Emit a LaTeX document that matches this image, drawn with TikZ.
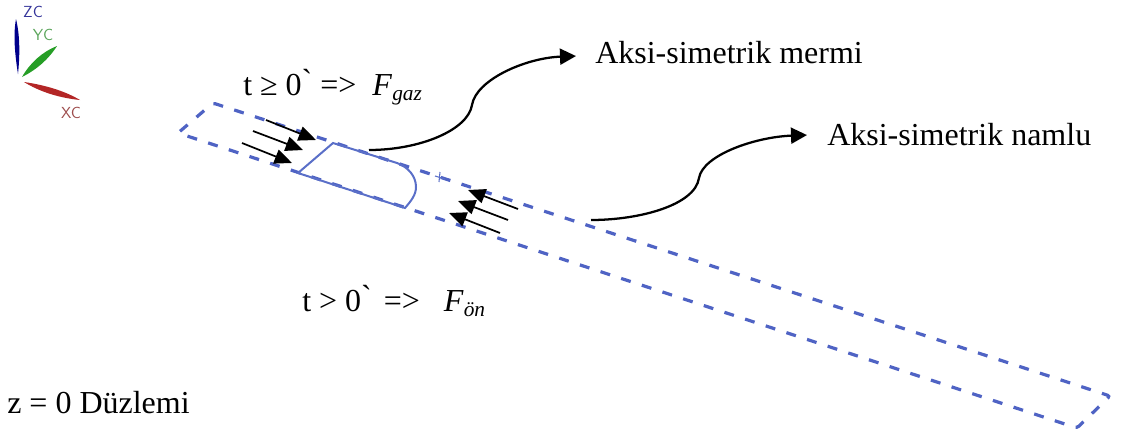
\documentclass[tikz,border=0pt]{standalone}
\usepackage{fontspec}
\setmainfont{Liberation Serif}
\usepackage{tikz}
\usetikzlibrary{arrows.meta}
\definecolor{barrelblue}{HTML}{4F63C4}
\definecolor{bulletblue}{HTML}{5A6FC8}
\tikzset{
  barrel/.style={line width=2.4pt, draw=barrelblue, dash pattern=on 7.5pt off 8.8pt},
  bullet/.style={line width=1.5pt, draw=bulletblue},
  force/.style={-{Triangle[length=13pt,width=11pt]}, line width=1.3pt, draw=black},
  leader/.style={-{Triangle[length=12pt,width=12pt]}, line width=1.7pt, draw=black},
  label/.style={anchor=base west, inner sep=0pt, font=\fontsize{24}{26}\selectfont},
  axislabel/.style={font=\sffamily\fontsize{12}{13}\selectfont, inner sep=0pt},
}
\newcommand{\fsub}[2]{\textit{#1}\raisebox{-3.75pt}{\fontsize{16}{16}\selectfont\textit{#2}}}
\newcommand{\gravemark}{\raisebox{3pt}{\textasciigrave}}
\begin{document}
\begin{tikzpicture}[x=0.75pt, y=-0.75pt]
  \useasboundingbox (0,0) rectangle (1122,437);
  % Koordinat eksenleri
  \fill[blue!55!black] (16,19) .. controls (13,35) and (15,55) .. (18,74) .. controls (20,55) and (20,35) .. (16,19) -- cycle;
  \fill[green!55!black!85] (57,46) .. controls (42,52) and (30,63) .. (22,77) .. controls (36,70) and (48,60) .. (57,46) -- cycle;
  \fill[red!65!black!85] (24,82) .. controls (40,92) and (60,98) .. (80,100) .. controls (65,91) and (45,85) .. (24,82) -- cycle;
  \node[axislabel, text=blue!50!black!80] (zc) at (33,12) {ZC};
  \node[axislabel, text=green!45!black!65] (yc) at (43,35) {YC};
  \node[axislabel, text=red!45!black!70] (xc) at (71,113) {XC};
  % Namlu
  \draw[barrel, rounded corners=2pt] (178,133) -- (213,103) -- (1110,396) -- (1077,428) -- cycle;
  \draw[line width=0.8pt, draw=bulletblue] (435,176) -- (445,179) (440,172) -- (439,182);
  % Mermi
  \draw[bullet] (298,173) -- (333,143) -- (397,163) .. controls (408,167) and (416,176) .. (416,187) .. controls (416,195) and (411,201) .. (405,208) -- cycle;
  % Kuvvet oklari
  \foreach \xa/\ya/\xb/\yb in {266/120/316/140, 253/131/303/150, 242/143/292/163,
                               518/209/468/190, 508/220/458/201, 500/233/449/213}{
    \draw[force] (\xa,\ya) -- (\xb,\yb);
  }
  % Etiketler
  \node[label] (mermi) at (595,63) {Aksi-simetrik mermi};
  \node[label] (namlu) at (827,145) {Aksi-simetrik namlu};
  \node[label] (fgaz) at (243,95) {t ≥ 0\gravemark\ =>\ \ \fsub{F}{gaz}};
  \node[label] (fon) at (302,311) {t > 0\gravemark\hspace{9pt}=>\hspace{18pt}\fsub{F}{ön}};
  \node[label] (duzlem) at (7,413) {z = 0 Düzlemi};
  % Oklar
  \coordinate (mermistart) at (369,150);
  \coordinate (namlustart) at (591,220);
  \draw[leader] (mermistart) .. controls (420,150) and (468,130) .. (472,105) .. controls (476,80) and (525,58) .. ([xshift=-14.25pt,yshift=-3pt]mermi.west);
  \draw[leader] (namlustart) .. controls (640,220) and (695,205) .. (699,178) .. controls (703,155) and (755,137) .. ([xshift=-15pt,yshift=-0.75pt]namlu.west);
\end{tikzpicture}
\end{document}
